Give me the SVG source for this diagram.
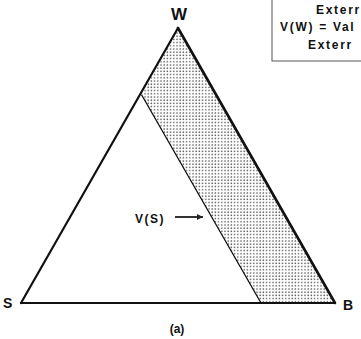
<svg xmlns="http://www.w3.org/2000/svg" width="361" height="339" viewBox="0 0 361 339">
<defs>
<style>
text{font-family:"Liberation Sans",Arial,sans-serif;font-weight:bold;fill:#111}
.edge{stroke:#111;fill:none;stroke-linecap:round}
.leg{font-size:12px;letter-spacing:1.7px}
</style>
<pattern id="dots" width="3.2" height="3.2" patternUnits="userSpaceOnUse">
<rect width="3.2" height="3.2" fill="#fff"/>
<circle cx="1" cy="1" r="0.8" fill="#555"/>
</pattern>
<marker id="ah" markerWidth="8" markerHeight="8" refX="7" refY="4" orient="auto" markerUnits="userSpaceOnUse">
<path d="M1,1 L7,4 L1,7 Z" fill="#222"/>
</marker>
</defs>
<rect width="361" height="339" fill="#fff"/>
<g id="shaded-region">
<polygon points="178,28 141.7,95 261,303 335,303" fill="url(#dots)"/>
</g>
<g id="connectors">
<line class="edge" x1="178" y1="28" x2="21" y2="303" stroke-width="2.2"/>
<line class="edge" x1="178" y1="28" x2="335" y2="303" stroke-width="2.6"/>
<line class="edge" x1="21" y1="303" x2="335" y2="303" stroke-width="2.2" stroke="#333"/>
<line class="edge" x1="141.7" y1="95" x2="261" y2="303" stroke-width="1.3"/>
<line x1="175" y1="217" x2="203" y2="217" stroke="#333" stroke-width="2" marker-end="url(#ah)"/>
</g>
<g id="node-W"><text x="179" y="20" font-size="17" text-anchor="middle">W</text></g>
<g id="node-S"><text x="3" y="308" font-size="14">S</text></g>
<g id="node-B"><text x="343" y="310" font-size="14">B</text></g>
<g id="label-VS"><text x="135" y="223" font-size="12" letter-spacing="1.5">V(S)</text></g>
<g id="caption"><text x="177" y="333" font-size="12" text-anchor="middle">(a)</text></g>
<g id="legend">
<rect x="272" y="-2" width="100" height="63" fill="#fff" stroke="#555" stroke-width="1"/>
<text class="leg" x="316" y="14">Exterr</text>
<text class="leg" x="280" y="31">V(W) = Val</text>
<text class="leg" x="308" y="49">Exterr</text>
</g>
</svg>
